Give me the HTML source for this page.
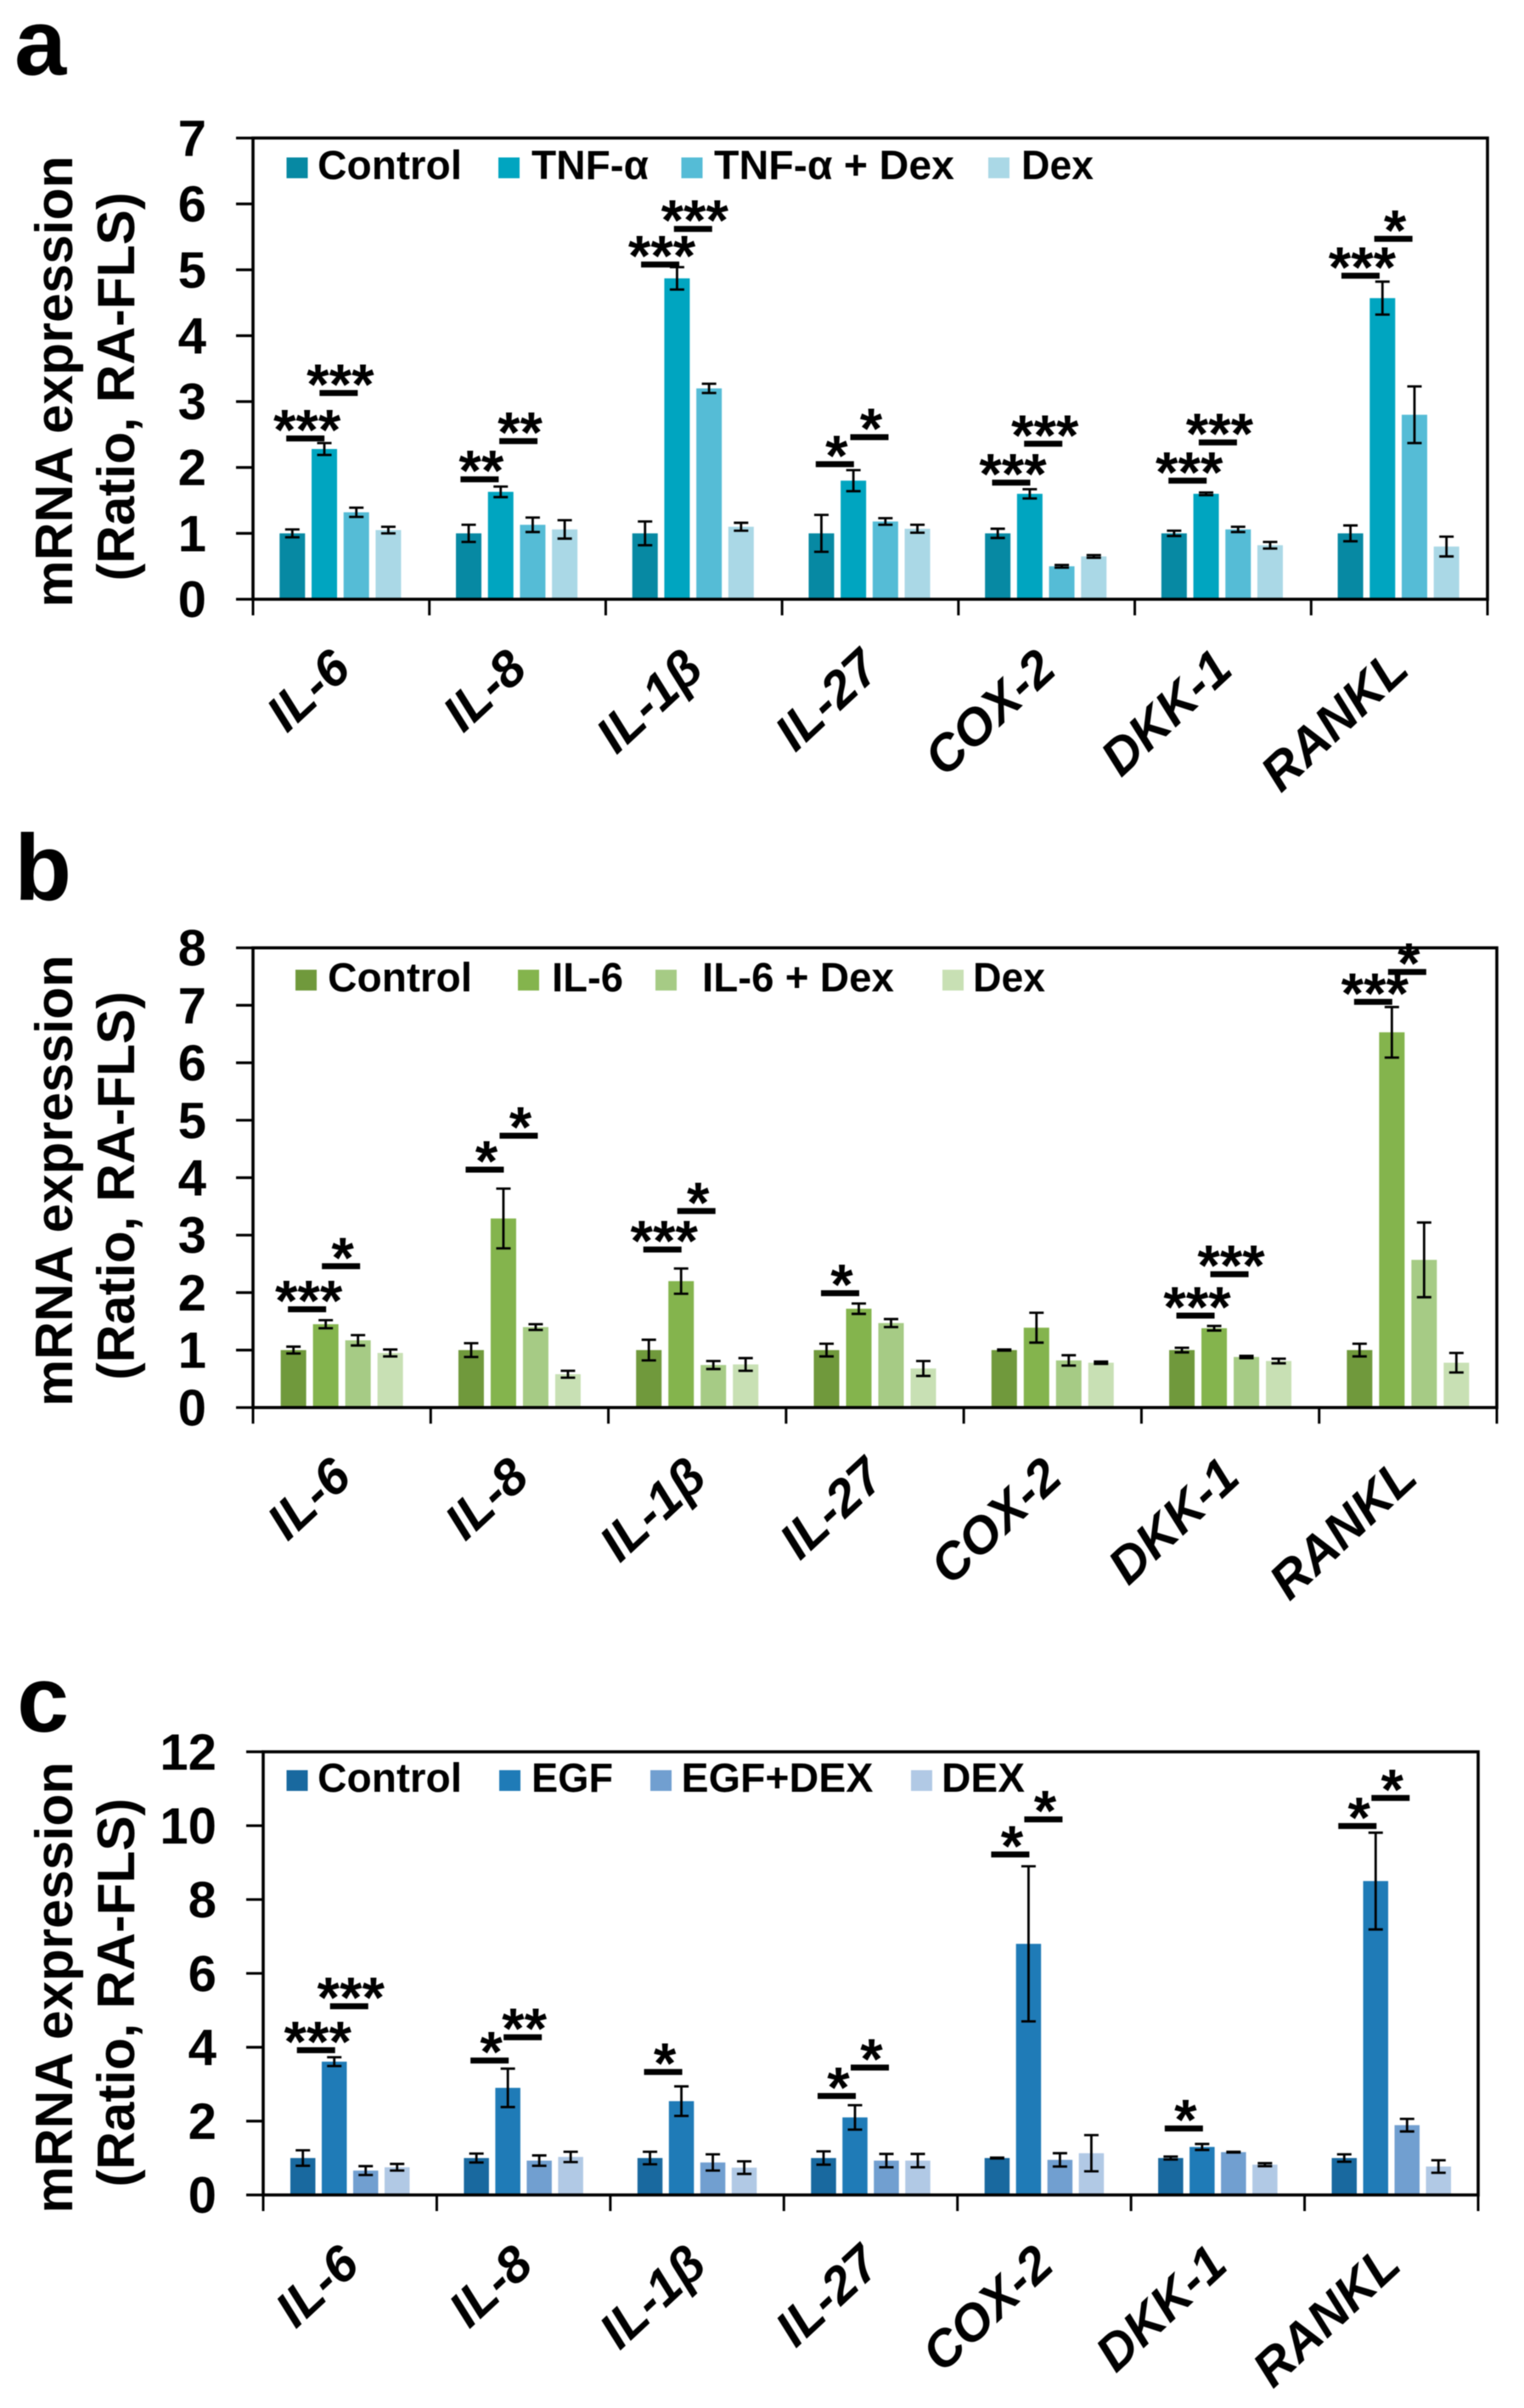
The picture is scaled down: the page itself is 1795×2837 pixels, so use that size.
<!DOCTYPE html>
<html lang="en">
<head>
<meta charset="utf-8">
<title>mRNA expression in RA-FLS</title>
<style>
html,body{margin:0;padding:0;background:#fff;}
svg{display:block;filter:blur(0.5px);}
text{font-family:"Liberation Sans",sans-serif;font-weight:bold;fill:#000;}
</style>
</head>
<body>
<svg id="figure" xmlns="http://www.w3.org/2000/svg" width="1795" height="2837" viewBox="0 0 1795 2837"></svg>
<script>
const categories = ['IL-6','IL-8','IL-1β','IL-27','COX-2','DKK-1','RANKL'];

/* Panel a */
const seriesNamesA = ['Control','TNF-α','TNF-α + Dex','Dex'];
const controlA = [1.0,1.0,1.0,1.0,1.0,1.0,1.0];
const treatedA = [2.28,1.63,4.87,1.80,1.60,1.60,4.57];
const treatedDexA = [1.32,1.13,3.20,1.18,0.50,1.06,2.80];
const dexA = [1.05,1.06,1.10,1.07,0.65,0.82,0.80];
const controlErrA = [0.06,0.13,0.18,0.28,0.07,0.04,0.12];
const treatedErrA = [0.09,0.08,0.17,0.16,0.07,0.02,0.25];
const treatedDexErrA = [0.07,0.11,0.07,0.05,0.02,0.04,0.43];
const dexErrA = [0.05,0.14,0.06,0.06,0.02,0.05,0.15];
const yTicksA = [0,1,2,3,4,5,6,7];
const sigLowA = [2.44,1.82,5.08,2.05,1.77,1.80,4.91];
const sigHighA = [3.13,2.40,5.62,2.46,2.36,2.38,5.47];
const sigLowStarsA = ['***','**','***','*','***','***','***'];
const sigHighStarsA = ['***','**','***','*','***','***','*'];

/* Panel b */
const seriesNamesB = ['Control','IL-6','IL-6 + Dex','Dex'];
const controlB = [1.0,1.0,1.0,1.0,1.0,1.0,1.0];
const treatedB = [1.45,3.29,2.20,1.72,1.39,1.38,6.53];
const treatedDexB = [1.17,1.40,0.74,1.47,0.82,0.88,2.57];
const dexB = [0.95,0.58,0.75,0.68,0.78,0.81,0.78];
const controlErrB = [0.06,0.12,0.18,0.11,0.01,0.04,0.11];
const treatedErrB = [0.07,0.52,0.22,0.09,0.26,0.04,0.44];
const treatedDexErrB = [0.09,0.05,0.07,0.07,0.09,0.02,0.65];
const dexErrB = [0.06,0.06,0.11,0.13,0.02,0.04,0.17];
const yTicksB = [0,1,2,3,4,5,6,7,8];
const sigLowB = [1.71,4.14,2.75,1.99,null,1.60,7.06];
const sigHighB = [2.46,4.73,3.42,null,null,2.32,7.58];
const sigLowStarsB = ['***','*','***','*','','***','***'];
const sigHighStarsB = ['*','*','*','','','***','*'];

/* Panel c */
const seriesNamesC = ['Control','EGF','EGF+DEX','DEX'];
const controlC = [1.0,1.0,1.0,1.0,1.0,1.0,1.0];
const treatedC = [3.61,2.90,2.54,2.10,6.80,1.30,8.50];
const treatedDexC = [0.66,0.93,0.88,0.93,0.95,1.16,1.89];
const dexC = [0.75,1.03,0.74,0.93,1.13,0.82,0.77];
const controlErrC = [0.21,0.12,0.17,0.18,0.01,0.04,0.10];
const treatedErrC = [0.12,0.52,0.40,0.33,2.10,0.08,1.31];
const treatedDexErrC = [0.12,0.14,0.22,0.18,0.18,0.01,0.17];
const dexErrC = [0.09,0.14,0.17,0.18,0.49,0.04,0.17];
const yTicksC = [0,2,4,6,8,10,12];
const sigLowC = [3.92,3.64,3.33,2.68,9.22,1.80,9.99];
const sigHighC = [5.11,4.27,null,3.45,10.17,null,10.75];
const sigLowStarsC = ['***','*','*','*','*','*','*'];
const sigHighStarsC = ['***','**','','*','*','','*'];

const NS = 'http://www.w3.org/2000/svg';
const root = document.getElementById('figure');

function make(parent, tag, attrs, content) {
  const el = document.createElementNS(NS, tag);
  for (const k in attrs) el.setAttribute(k, attrs[k]);
  if (content !== undefined) el.textContent = content;
  parent.appendChild(el);
  return el;
}

function drawPanel(p) {
  const g = make(root, 'g', {});
  
  

  const y = v => p.bottom - (v / p.yMax) * (p.bottom - p.top);
  const groupW = (p.right - p.left) / p.categories.length;
  const groupX = i => p.left + groupW * (i + 0.5);
  const barX = (i, s) => groupX(i) + p.shift + (s - 1.5) * p.pitch;

  const letter = make(g, 'text', {x: p.letterX, y: p.letterY, 'font-size': 110}, p.letter);
  
  

  const title1 = make(g, 'text', {transform: `translate(85 ${p.titleY}) rotate(-90)`, 'font-size': 62, 'text-anchor': 'middle'}, 'mRNA expression');
  
  
  const title2 = make(g, 'text', {transform: `translate(158 ${p.titleY + 6}) rotate(-90)`, 'font-size': 62, 'text-anchor': 'middle'}, '(Ratio, RA-FLS)');
  
  

  p.values.forEach((vals, s) => {
    vals.forEach((v, i) => {
      const bar = make(g, 'rect', {x: barX(i, s) - p.barW / 2, y: y(v), width: p.barW, height: y(0) - y(v), fill: p.colors[s]});
      
      
    });
  });

  p.errors.forEach((errs, s) => {
    errs.forEach((e, i) => {
      const cx = barX(i, s), v = p.values[s][i];
      const d = `M${cx} ${y(v + e)}V${y(v - e)}M${cx - 8.5} ${y(v + e)}H${cx + 8.5}M${cx - 8.5} ${y(v - e)}H${cx + 8.5}`;
      const err = make(g, 'path', {d: d, stroke: '#000', 'stroke-width': 2.8, fill: 'none'});
      
      
    });
  });

  const frame = make(g, 'rect', {x: p.left, y: p.top, width: p.right - p.left, height: p.bottom - p.top, fill: 'none', stroke: '#000', 'stroke-width': 3.6});
  
  

  p.yTicks.forEach(t => {
    const tick = make(g, 'line', {x1: p.left - 20, x2: p.left, y1: y(t), y2: y(t), stroke: '#000', 'stroke-width': 3.2});
    
    
    const label = make(g, 'text', {x: p.tickLabelX, y: y(t) + 21, 'font-size': 60, 'text-anchor': 'end'}, String(t));
    
    
  });

  for (let i = 0; i <= p.categories.length; i++) {
    const xt = p.left + groupW * i;
    const tick = make(g, 'line', {x1: xt, x2: xt, y1: p.bottom, y2: p.bottom + 19, stroke: '#000', 'stroke-width': 3});
    
    
  }

  p.categories.forEach((c, i) => {
    const label = make(g, 'text', {transform: `translate(${groupX(i) + 14} ${p.bottom + 86}) rotate(-43)`, 'font-size': 60, 'font-style': 'italic', 'text-anchor': 'end'}, c);
    
    
  });

  function sig(i, level, stars, xOffset) {
    if (level === null || !stars) return;
    const cx = groupX(i) + p.shift + xOffset;
    const line = make(g, 'rect', {x: cx - 22.5, y: y(level) - 3.5, width: 45, height: 7, fill: '#000'});
    
    
    const mark = make(g, 'text', {x: cx + 2, y: y(level) + 13, 'font-size': 68, 'text-anchor': 'middle'}, stars);
    
    
  }
  p.categories.forEach((c, i) => {
    sig(i, p.sigLow[i], p.sigLowStars[i], -p.pitch - 3 + (p.lowNudge ? p.lowNudge[i] : 0));
    sig(i, p.sigHigh[i], p.sigHighStars[i], -1 + (p.highNudge ? p.highNudge[i] : 0));
  });

  p.names.forEach((name, s) => {
    const sw = make(g, 'rect', {x: p.legendSwatchX[s], y: p.legendY, width: 25, height: 24.5, fill: p.colors[s]});
    
    
    const text = make(g, 'text', {x: p.legendTextX[s], y: p.legendY + 25.5, 'font-size': 48, textLength: p.legendTextW[s], lengthAdjust: 'spacingAndGlyphs'}, name);
    
    
  });
}

drawPanel({
  letter: 'a', letterX: 17, letterY: 88, titleY: 449.5,
  left: 298, right: 1752, top: 162.6, bottom: 706, yMax: 7,
  shift: -1, pitch: 37.7, barW: 30, tickLabelX: 243,
  categories: categories, names: seriesNamesA, yTicks: yTicksA,
  values: [controlA, treatedA, treatedDexA, dexA],
  errors: [controlErrA, treatedErrA, treatedDexErrA, dexErrA],
  sigLow: sigLowA, sigHigh: sigHighA, sigLowStars: sigLowStarsA, sigHighStars: sigHighStarsA,
  lowNudge: [-0.5,-3,2,0,0,0,-4], highNudge: [-1,3,1,1,-2,-4,-5],
  colors: ['#0789a3','#00a5c0','#55bcd6','#aad8e6'],
  legendY: 185.5, legendSwatchX: [337.5,587,802.5,1164],
  legendTextX: [374,626,841,1203], legendTextW: [170,138,283,85]
});
drawPanel({
  letter: 'b', letterX: 17, letterY: 1060, titleY: 1391,
  left: 298, right: 1763, top: 1116.7, bottom: 1658.3, yMax: 8,
  shift: 0, pitch: 38, barW: 30, tickLabelX: 243,
  categories: categories, names: seriesNamesB, yTicks: yTicksB,
  values: [controlB, treatedB, treatedDexB, dexB],
  errors: [controlErrB, treatedErrB, treatedDexErrB, dexErrB],
  sigLow: sigLowB, sigHigh: sigHighB, sigLowStars: sigLowStarsB, sigHighStars: sigHighStarsB,
  colors: ['#70993c','#84b44d','#a6cb85','#c8e0b4'],
  legendY: 1142.5, legendSwatchX: [348,610,772,1110],
  legendTextX: [386,650,827,1146], legendTextW: [170,84,226,85]
});
drawPanel({
  letter: 'c', letterX: 20, letterY: 2040, titleY: 2341.6,
  left: 310, right: 1741, top: 2063.9, bottom: 2586, yMax: 12,
  shift: 0, pitch: 37, barW: 29.5, tickLabelX: 255,
  categories: categories, names: seriesNamesC, yTicks: yTicksC,
  values: [controlC, treatedC, treatedDexC, dexC],
  errors: [controlErrC, treatedErrC, treatedDexErrC, dexErrC],
  sigLow: sigLowC, sigHigh: sigHighC, sigLowStars: sigLowStarsC, sigHighStars: sigHighStarsC,
  colors: ['#19699f','#1f7bb7','#719fd0','#b1c9e5'],
  legendY: 2085.5, legendSwatchX: [337.5,588,766,1073],
  legendTextX: [374,626,802.5,1109], legendTextW: [170,96,226,98]
});
</script>
</body>
</html>
